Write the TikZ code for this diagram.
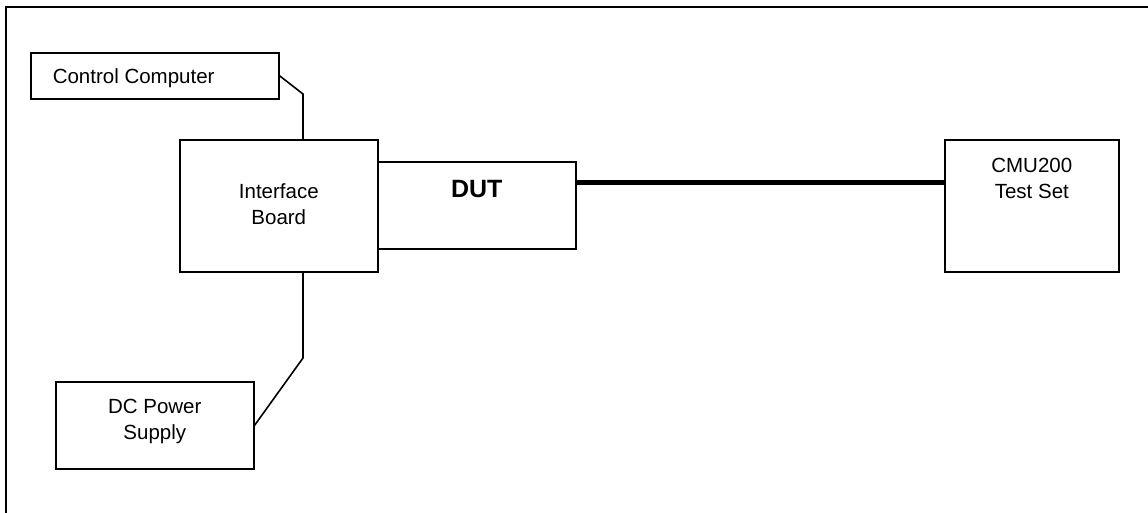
\documentclass[tikz,border=0pt]{standalone}
\usepackage{fontspec}
\setmainfont{Liberation Sans}
\usetikzlibrary{positioning, calc}
\newcommand{\boxtext}[4]{\parbox[c][#2][t]{#1}{\centering\vspace*{#3}#4}}
\tikzset{
    boxed/.style={draw, line width=1.6pt, inner sep=0pt, anchor=north west, font=\fontsize{20.5}{26}\selectfont},
    wire/.style={line width=1.6pt},
    cable/.style={line width=5pt},
    frame/.style={line width=1.5pt}
}

\begin{document}
\begin{tikzpicture}[x=1pt, y=-1pt]
        \useasboundingbox (0,0) rectangle (1148,513);

        % 外框
        \draw[frame] (6,513) -- (6,7) -- (1148,7);

        % 设备方框
        \node[boxed] (cc) at (30,52) {\parbox[c][46pt][t]{248pt}{\vspace*{16pt}\hspace*{22pt}Control Computer}};
        \node[boxed] (ib) at (179,139) {\boxtext{198pt}{132pt}{44pt}{Interface\\Board}};
        \node[boxed] (dut) at (377,161) {\boxtext{198pt}{87pt}{19pt}{\fontsize{25}{30}\selectfont\bfseries DUT}};
        \node[boxed] (cmu) at (944,139) {\boxtext{174pt}{132pt}{18pt}{CMU200\\Test Set}};
        \node[boxed] (dc) at (55,381) {\boxtext{198pt}{87pt}{17pt}{DC Power\\Supply}};

        % 连线
        \coordinate (ccbend) at (303,94);
        \coordinate (dcbend) at (303,358);
        \coordinate (dutport) at ([yshift=-22pt]dut.north east);
        \draw[wire] (cc.east) -- (ccbend) -- (ccbend |- ib.north);
        \draw[wire] (ib.south -| dcbend) -- (dcbend) -- (dc.east);
        \draw[cable] (dutport) -- (dutport -| cmu.west);

\end{tikzpicture}
\end{document}
